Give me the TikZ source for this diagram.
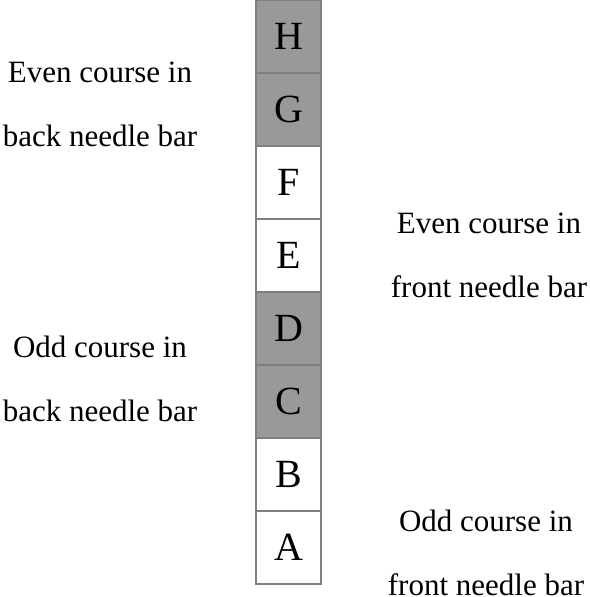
\documentclass[tikz,border=0pt]{standalone}
\usepackage{fontspec}
\setmainfont{Liberation Serif}
\usepackage{tikz}
\usepackage{xcolor}

\definecolor{nadelgrau}{HTML}{999999}
\definecolor{randgrau}{HTML}{7F7F7F}

\begin{document}
\begin{tikzpicture}[x=1pt,y=-1pt,
  feld/.style={draw=randgrau, line width=1.6pt, minimum width=65pt, minimum height=73pt, inner sep=0pt, font=\fontsize{40}{42}\selectfont},
  hinten/.style={feld, fill=nadelgrau},
  vorne/.style={feld, fill=white},
  beschr/.style={align=center, inner sep=0pt, font=\fontsize{31}{64}\selectfont}]

\useasboundingbox (0,0) rectangle (589,597);

%Nadelreihe
\node[hinten] (H) at (288.5,36.5) {H};
\node[hinten] (G) at (288.5,109.5) {G};
\node[vorne] (F) at (288.5,182.5) {F};
\node[vorne] (E) at (288.5,255.5) {E};
\node[hinten] (D) at (288.5,328.5) {D};
\node[hinten] (C) at (288.5,401.5) {C};
\node[vorne] (B) at (288.5,474.5) {B};
\node[vorne] (A) at (288.5,547.5) {A};

%Beschriftung links
\node[beschr] (gerhinten) at (100,104.5) {Even course in\\back needle bar};
\node[beschr] (ungerhinten) at (100,379) {Odd course in\\back needle bar};

%Beschriftung rechts
\node[beschr] (gervorne) at (489,255) {Even course in\\front needle bar};
\node[beschr] (ungervorne) at (486,552.5) {Odd course in\\front needle bar};

\end{tikzpicture}
\end{document}
